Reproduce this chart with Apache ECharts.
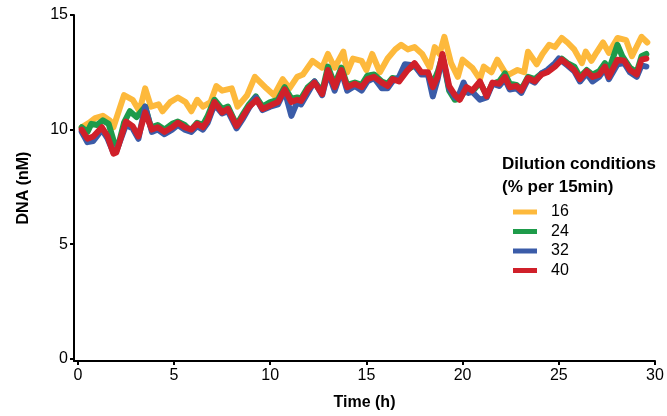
<!DOCTYPE html>
<html>
<head>
<meta charset="utf-8">
<script src="https://cdn.jsdelivr.net/npm/echarts@6/dist/echarts.min.js"></script>
<style>
html,body{margin:0;padding:0;background:#fff;}
#c{width:667px;height:416px;}
</style>
</head>
<body>
<div id="c"></div>
<script>
// ---- data ----
var seriesNames = ['16', '24', '32', '40'];
var xTicks = [0, 5, 10, 15, 20, 25, 30];
var yTicks = [0, 5, 10, 15];

var time16 = [0.2,0.6,0.9,1.3,1.66,1.85,2.4,2.85,3.2,3.5,3.8,4.2,4.4,4.8,5.2,5.6,5.9,6.2,6.5,6.9,7.2,7.5,8.0,8.3,8.8,9.2,9.8,10.2,10.65,11.0,11.4,11.7,12.2,12.7,13.0,13.35,13.8,14.0,14.3,14.75,15.0,15.3,15.7,16.1,16.5,16.8,17.15,17.5,17.9,18.3,18.55,18.8,19.05,19.4,19.75,20.0,20.5,20.9,21.1,21.5,21.8,22.2,22.4,22.85,23.2,23.4,23.85,24.15,24.5,24.8,25.15,25.45,25.8,26.2,26.4,26.7,26.95,27.3,27.6,28.05,28.5,28.8,29.3,29.6];
var dna16 = [10.1,10.3,10.5,10.6,10.4,10.1,11.5,11.3,10.8,11.8,11.0,11.1,10.8,11.2,11.4,11.2,10.8,11.3,11.0,11.2,11.9,11.7,11.8,11.0,11.5,12.3,11.8,11.5,12.2,11.8,12.3,12.4,13.0,12.7,13.3,12.7,13.4,12.5,13.1,13.0,12.6,13.3,12.5,13.1,13.5,13.7,13.5,13.6,13.3,12.7,13.6,13.3,14.05,12.9,12.3,13.05,12.7,12.2,12.75,12.5,13.05,12.5,12.4,12.6,12.5,13.4,12.85,13.3,13.7,13.6,14.0,13.8,13.5,12.9,13.4,13.0,13.35,13.8,13.35,14.0,13.9,13.2,14.05,13.8];

var time24 = [0.2,0.5,0.7,1.0,1.3,1.6,1.9,2.1,2.4,2.7,3.05,3.5,3.8,4.15,4.5,4.9,5.2,5.55,5.85,6.2,6.5,6.75,7.1,7.5,7.8,8.25,8.6,8.9,9.25,9.6,10.0,10.4,10.75,11.1,11.4,11.6,11.95,12.3,12.7,13.0,13.35,13.7,14.0,14.4,14.75,15.05,15.4,15.8,16.1,16.35,16.7,17.1,17.5,17.85,18.2,18.45,18.7,18.95,19.3,19.6,19.85,20.2,20.5,20.9,21.25,21.55,21.9,22.2,22.45,22.8,23.05,23.4,23.75,24.1,24.4,24.8,25.15,25.45,25.8,26.1,26.45,26.75,27.1,27.4,27.6,28.05,28.3,28.7,29.05,29.3,29.55];
var dna24 = [10.1,9.9,10.25,10.2,10.4,10.25,9.4,9.3,10.3,10.8,10.55,11.0,10.1,10.2,10.0,10.25,10.35,10.2,9.95,10.3,10.2,10.6,11.3,10.9,11.0,10.2,10.7,11.1,11.45,11.0,11.2,11.3,11.85,11.35,11.4,11.35,11.85,12.1,11.65,12.75,11.95,12.7,11.95,12.05,11.95,12.35,12.4,12.1,12.0,12.25,12.2,12.6,12.8,12.45,12.45,12.0,12.5,13.2,11.7,11.3,11.35,11.8,11.65,12.05,11.5,12.0,12.1,12.45,12.0,11.95,11.75,12.3,12.2,12.45,12.55,12.8,13.1,12.9,12.75,12.3,12.6,12.4,12.55,12.9,12.6,13.7,13.2,12.7,12.5,13.2,13.3];

var time32 = [0.2,0.5,0.8,1.25,1.55,1.85,2.0,2.5,2.85,3.15,3.5,3.85,4.15,4.5,4.9,5.2,5.55,5.9,6.2,6.5,6.75,7.1,7.5,7.8,8.25,8.6,8.9,9.25,9.6,10.0,10.4,10.75,11.1,11.4,11.6,11.95,12.3,12.7,13.0,13.35,13.7,14.0,14.4,14.75,15.05,15.4,15.8,16.1,16.35,16.7,17.0,17.5,17.85,18.2,18.45,18.7,18.95,19.3,19.6,19.85,20.05,20.3,20.5,20.9,21.25,21.55,21.9,22.2,22.45,22.8,23.05,23.4,23.75,24.1,24.4,24.8,25.0,25.45,25.8,26.1,26.45,26.75,27.1,27.4,27.6,28.05,28.4,28.7,29.05,29.3,29.55];
var dna32 = [9.9,9.45,9.5,10.0,9.6,9.0,9.05,10.2,10.05,9.6,11.0,9.9,10.0,9.8,10.0,10.2,10.0,9.9,10.15,10.0,10.3,11.1,10.7,10.8,10.05,10.5,10.95,11.4,10.85,11.0,11.1,11.7,10.6,11.2,11.1,11.6,12.1,11.5,12.5,11.7,12.55,11.7,11.9,11.7,12.1,12.25,11.8,11.8,12.1,12.3,12.85,12.8,12.4,12.4,11.45,12.2,13.2,11.8,11.4,11.6,12.05,11.6,11.65,11.3,11.4,12.0,11.9,12.2,11.75,11.8,11.6,12.2,12.05,12.45,12.6,12.9,13.1,12.8,12.55,12.1,12.45,12.1,12.3,12.65,12.2,12.85,12.9,12.5,12.3,12.8,12.75];

var time40 = [0.2,0.5,0.8,1.25,1.55,1.85,2.0,2.5,2.85,3.15,3.5,3.85,4.15,4.5,4.9,5.2,5.55,5.9,6.2,6.5,6.75,7.1,7.5,7.8,8.25,8.6,8.9,9.3,9.6,10.0,10.4,10.75,11.1,11.4,11.6,11.95,12.3,12.7,13.0,13.35,13.7,14.0,14.4,14.75,15.05,15.4,15.8,16.1,16.35,16.7,17.1,17.5,17.85,18.2,18.45,18.7,18.95,19.3,19.6,19.85,20.2,20.5,20.9,21.25,21.55,21.9,22.2,22.45,22.8,23.05,23.4,23.75,24.1,24.4,24.8,25.15,25.45,25.8,26.1,26.45,26.75,27.1,27.4,27.6,28.05,28.4,28.7,29.05,29.3,29.55];
var dna40 = [10.0,9.6,9.7,10.1,9.7,8.95,9.0,10.35,10.15,9.7,10.75,10.0,10.1,9.9,10.1,10.3,10.1,10.0,10.25,10.1,10.4,11.2,10.75,10.9,10.15,10.6,11.0,11.3,10.9,11.05,11.2,11.75,11.2,11.3,11.25,11.75,12.05,11.55,12.6,11.85,12.6,11.85,12.0,11.85,12.2,12.3,12.05,11.9,12.2,12.1,12.55,12.9,12.5,12.5,11.85,12.3,13.3,11.9,11.5,11.3,11.85,11.7,12.1,11.45,12.05,12.0,12.3,11.85,11.9,11.7,12.25,12.1,12.4,12.5,12.75,13.05,12.85,12.6,12.2,12.55,12.3,12.4,12.75,12.3,13.05,13.0,12.6,12.4,13.05,13.1];

var colors = ['#FDB93C', '#1E9B4A', '#3B5CA8', '#D0202A'];

function pairs(t, v) {
  var out = [];
  for (var i = 0; i < t.length; i++) out.push([t[i], v[i]]);
  return out;
}

var allTimes = [time16, time24, time32, time40];
var allVals = [dna16, dna24, dna32, dna40];

var series = seriesNames.map(function (name, i) {
  return {
    name: name,
    type: 'line',
    data: pairs(allTimes[i], allVals[i]),
    showSymbol: false,
    symbol: 'none',
    smooth: false,
    lineStyle: { width: 6, color: colors[i], cap: 'round', join: 'round' },
    itemStyle: { color: colors[i] },
    z: 2 + i,
    animation: false
  };
});

var FONT = '"Liberation Sans", Arial, Helvetica, sans-serif';

var chart = echarts.init(document.getElementById('c'), null, { renderer: 'canvas' });
chart.setOption({
  backgroundColor: '#ffffff',
  animation: false,
  title: {
    text: 'Dilution conditions\n(% per 15min)',
    left: 497,
    top: 148,
    textStyle: { fontFamily: FONT, fontSize: 17, fontWeight: 'bold', color: '#000', lineHeight: 23 }
  },
  legend: {
    orient: 'vertical',
    left: 508,
    top: 199,
    itemWidth: 24,
    itemHeight: 5,
    itemGap: 3.5,
    icon: 'rect',
    data: seriesNames,
    textStyle: { fontFamily: FONT, fontSize: 16, color: '#000', padding: [0, 0, 0, 9], lineHeight: 16 }
  },
  grid: { left: 74, right: 12, top: 15, bottom: 52, containLabel: false },
  xAxis: {
    type: 'value',
    min: -0.2,
    max: 30,
    name: 'Time (h)',
    nameLocation: 'middle',
    nameGap: 34,
    nameTextStyle: { fontFamily: FONT, fontSize: 16, fontWeight: 'bold', color: '#000' },
    axisLine: { show: true, onZero: false, lineStyle: { color: '#000', width: 2 } },
    axisTick: { show: true, customValues: xTicks, length: 4, lineStyle: { color: '#000', width: 2 } },
    axisLabel: { customValues: xTicks, margin: 7, fontFamily: FONT, fontSize: 16, color: '#000' },
    splitLine: { show: false }
  },
  yAxis: {
    type: 'value',
    min: -0.1,
    max: 15,
    name: 'DNA (nM)',
    nameLocation: 'middle',
    nameGap: 42,
    nameRotate: 90,
    nameTextStyle: { fontFamily: FONT, fontSize: 16, fontWeight: 'bold', color: '#000' },
    axisLine: { show: true, onZero: false, lineStyle: { color: '#000', width: 2 } },
    axisTick: { show: true, customValues: yTicks, length: 4, lineStyle: { color: '#000', width: 2 } },
    axisLabel: { customValues: yTicks, margin: 6, fontFamily: FONT, fontSize: 16, color: '#000' },
    splitLine: { show: false }
  },
  series: series
});
</script>
</body>
</html>
